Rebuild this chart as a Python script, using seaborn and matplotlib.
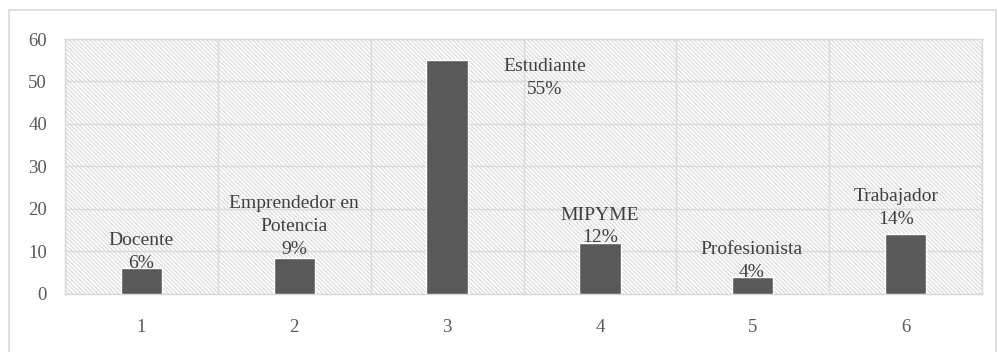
import numpy as np
import pandas as pd
import seaborn as sns
from matplotlib import pyplot as plt
from matplotlib.patches import Rectangle

# data
categories = ["1", "2", "3", "4", "5", "6"]
values = [6, 8.5, 55, 12, 4, 14]
labels = ["Docente\n6%", "Emprendedor en\nPotencia\n9%", "Estudiante\n55%",
          "MIPYME\n12%", "Profesionista\n4%", "Trabajador\n14%"]
y_ticks = [0, 10, 20, 30, 40, 50, 60]

# label offsets in points (dx, dy) relative to the bar top
label_offsets = [(0, -2.5), (0, 0), (0, 0), (0, -2.5), (-1, -3), (-7, 5)]

df = pd.DataFrame({"cat": categories, "val": values})

sns.set_theme(style="white")
plt.rcParams["font.family"] = ["Liberation Serif", "DejaVu Serif"]

fig = plt.figure(figsize=(9.98, 3.52), dpi=100)
ax = fig.add_axes([0.0651, 0.1648, 0.919, 0.7244])

# outer frame of the chart area
fig.patches.append(Rectangle((9 / 998, -0.05), 987 / 998, 1.05 - 10 / 352,
                             transform=fig.transFigure, fill=False,
                             edgecolor="#d9d9d9", linewidth=1.2))

# hatched plot background
plt.rcParams["hatch.linewidth"] = 0.9
ax.add_patch(Rectangle((0, 0), 1, 1, transform=ax.transAxes, facecolor="white",
                       edgecolor="#dcdcdc", hatch="\\" * 8, linewidth=0, zorder=0))

sns.barplot(data=df, x="cat", y="val", order=categories, color="#595959",
            saturation=1, width=0.27, ax=ax, zorder=3)

ax.set_xlim(-0.5, 5.5)
ax.set_ylim(0, 60)
ax.set_yticks(y_ticks)
ax.set_xticks(np.arange(-0.5, 6, 1), minor=True)
ax.grid(axis="y", color="#d9d9d9", linewidth=1, zorder=1)
ax.grid(axis="x", which="minor", color="#d9d9d9", linewidth=1, zorder=1)
ax.set_axisbelow(True)
ax.set_xlabel("")
ax.set_ylabel("")
for sp in ax.spines.values():
    sp.set_color("#d9d9d9")
    sp.set_linewidth(1)

ax.tick_params(axis="both", which="both", length=0, labelcolor="#595959", labelsize=13.5)
ax.tick_params(axis="x", pad=18)
ax.tick_params(axis="y", pad=13)

for i, (v, lab) in enumerate(zip(values, labels)):
    if i == 2:
        # the Estudiante label sits to the right of its bar
        ax.text(i + 0.64, v + 0.6, lab, ha="center", va="top", fontsize=14,
                color="#404040", linespacing=1.45, zorder=4)
        continue
    dx, dy = label_offsets[i]
    ax.annotate(lab, xy=(i, v), xytext=(dx, dy), textcoords="offset points",
                ha="center", va="bottom", fontsize=14, color="#404040",
                linespacing=1.45, zorder=4)

fig.savefig("out.png", dpi=100)
